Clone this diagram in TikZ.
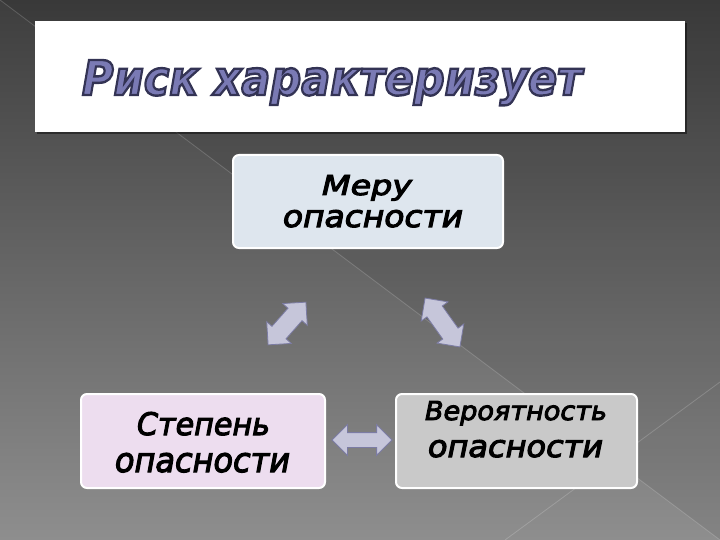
\documentclass[tikz,border=0pt]{standalone}
\usepackage{fontspec}
\usepackage{graphicx}
\setmainfont{DejaVu Sans}
\usetikzlibrary{shapes.arrows}
\definecolor{bgtop}{HTML}{3E3E3E}
\definecolor{bgbot}{HTML}{8E8E8E}
\definecolor{midfill}{HTML}{DEE6EE}
\definecolor{leftfill}{HTML}{EDDDEF}
\definecolor{rightfill}{HTML}{C9C9C9}
\definecolor{arrfill}{HTML}{C6C6DA}
\definecolor{arrline}{HTML}{7C7CA4}
\definecolor{titlecol}{HTML}{7A7AB4}
\newcommand{\fitline}[3]{\resizebox{#1}{#2}{#3}}
\newcommand{\outlinedtext}[1]{\special{pdf:literal direct 2 Tr 0.5 w 0.2 0.2 0.33 RG}#1\special{pdf:literal direct 0 Tr}}
\newcommand{\heavytext}[1]{\special{pdf:literal direct 2 Tr 0.35 w 0 0 0 RG}#1\special{pdf:literal direct 0 Tr}}
\tikzset{
  rbox/.style={draw=white, line width=2pt, rounded corners=6pt, inner sep=0pt},
  lbl/.style={anchor=base, inner sep=0pt, text=black, font=\itshape},
  dblarrow/.style={double arrow, fill=arrfill, draw=arrline, line width=0.8pt,
    inner xsep=0pt, inner ysep=9pt, double arrow head extend=7pt}
  ,bgline/.style={white, opacity=0.18, line width=0.8pt}
}
\begin{document}
\begin{tikzpicture}[x=1pt,y=-1pt]
\useasboundingbox (0,0) rectangle (720,540);
% background
\shade[top color=bgtop, bottom color=bgbot] (0,0) rectangle (720,540);
\fill[black, opacity=0.07] (0,0) -- (720,0) -- (720,540) -- cycle;
\draw[bgline] (0,0) -- (720,540);
\draw[bgline] (505,540) -- (720,382);
% title
\fill[black, opacity=0.45] (37,23) rectangle (687,134);
\node[fill=white, minimum width=650pt, minimum height=111pt, inner sep=0pt] (titlebox) at (360,76.5) {};
\node[anchor=base, inner sep=0pt, text=titlecol, font=\bfseries\itshape] (title) at (332,95)
  {\fitline{500pt}{35pt}{\outlinedtext{Риск характеризует}}};
% boxes
\node[rbox, fill=midfill, minimum width=270pt, minimum height=93pt] (mid) at (368,201.5) {};
\node[rbox, fill=leftfill, minimum width=244pt, minimum height=94pt] (left) at (203,441) {};
\node[rbox, fill=rightfill, minimum width=241pt, minimum height=94pt] (right) at (516.5,441) {};
% labels
\node[lbl] (mid1) at (367,195) {\fitline{90pt}{20pt}{\heavytext{Меру}}};
\node[lbl] (mid2) at (373,227) {\fitline{180pt}{17pt}{\heavytext{опасности}}};
\node[lbl] (left1) at (203.5,435) {\fitline{133pt}{23pt}{\heavytext{Степень}}};
\node[lbl] (left2) at (202.5,472) {\fitline{175pt}{19pt}{\heavytext{опасности}}};
\node[lbl] (right1) at (516,420) {\fitline{182pt}{19pt}{\heavytext{Вероятность}}};
\node[lbl] (right2) at (515.5,457) {\fitline{175pt}{17pt}{\heavytext{опасности}}};
% arrows
\node[dblarrow, minimum height=57pt, rotate=48.5] (a1) at (287,323.5) {};
\node[dblarrow, minimum height=60pt, rotate=-54.5] (a2) at (442.5,322.5) {};
\node[dblarrow, minimum height=60pt, inner ysep=7pt, double arrow head extend=8pt] (a3) at (362,440) {};
\end{tikzpicture}
\end{document}
